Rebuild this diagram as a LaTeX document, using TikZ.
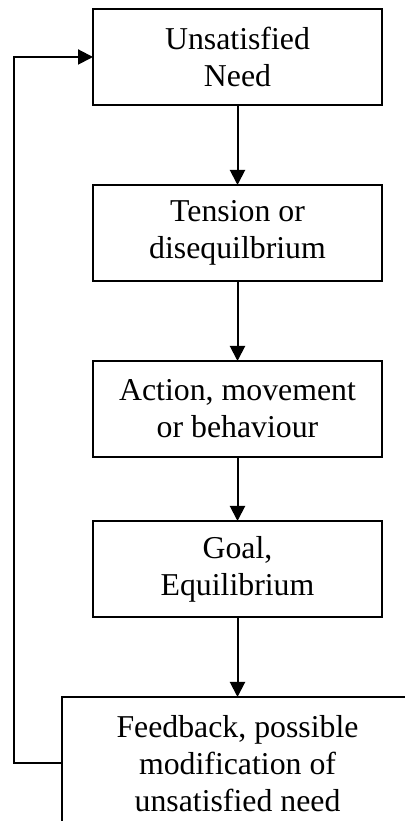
\documentclass[tikz,border=0pt]{standalone}
\usepackage{fontspec}
\setmainfont{Liberation Serif}
\usetikzlibrary{arrows.meta,positioning}

\begin{document}
\begin{tikzpicture}[
  x=1pt, y=1pt,
  font=\fontsize{31.8}{37}\selectfont,
  box/.style={draw=black, rectangle, line width=2pt, minimum width=289pt,
              minimum height=96pt, align=center, inner sep=2pt, outer sep=0pt},
  arrow/.style={-{Triangle[length=15pt, width=15pt]}, line width=2pt},
]
  \useasboundingbox (0,0) rectangle (404,821);

  \node[box] (need) at (237.5,764) {Unsatisfied\\Need};
  \node[box, below=80pt of need] (tension) {Tension or\\disequilbrium};
  \node[box, below=80pt of tension] (action) {Action, movement\\or behaviour};
  \node[box, below=64pt of action] (goal) {Goal,\\Equilibrium};
  \node[box, minimum width=352pt, minimum height=133pt,
        below=80pt of goal] (feedback)
        {Feedback, possible\\modification of\\unsatisfied need};

  \draw[arrow] (need) -- (tension);
  \draw[arrow] (tension) -- (action);
  \draw[arrow] (action) -- (goal);
  \draw[arrow] (goal) -- (feedback);

  \draw[arrow] (feedback.west) -- ++(-47.5,0) |- (need.west);
\end{tikzpicture}
\end{document}
